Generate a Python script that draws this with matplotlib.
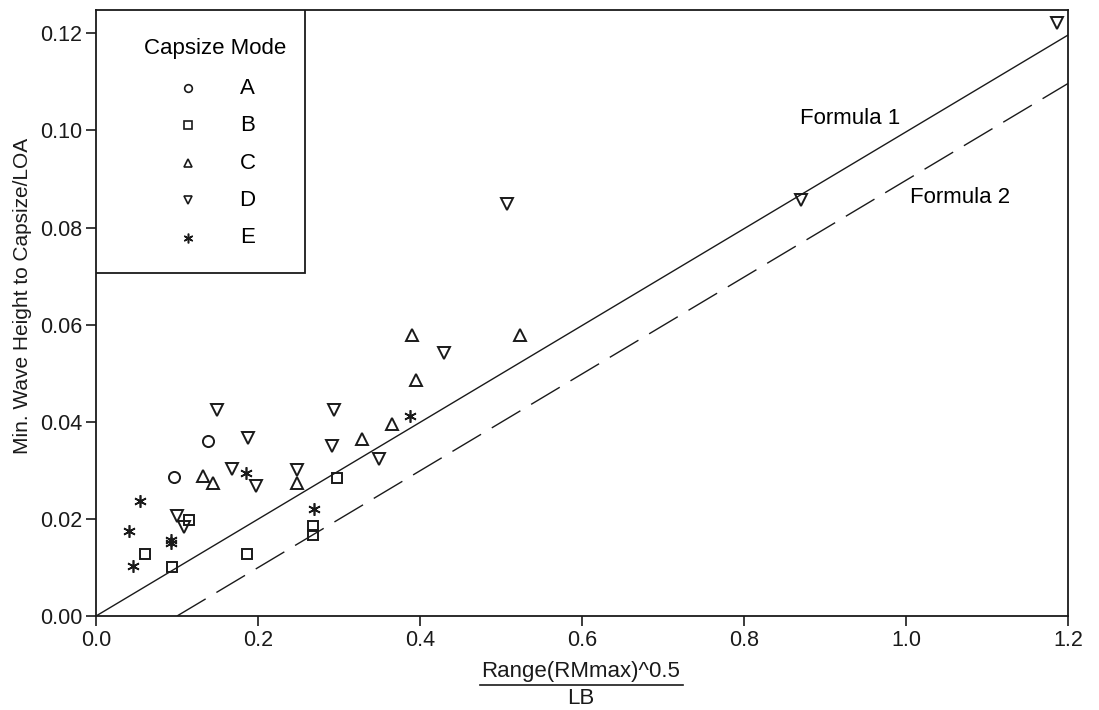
import numpy as np
import matplotlib
matplotlib.use('Agg')
import matplotlib.pyplot as plt
from matplotlib.patches import Rectangle
from matplotlib.lines import Line2D

plt.rcParams['font.family'] = ['Liberation Sans', 'DejaVu Sans']

# data: (x, y) per capsize mode
a_x = [0.096, 0.138]
a_y = [0.0286, 0.0360]

b_x = [0.0605, 0.0938, 0.115, 0.186, 0.268, 0.268, 0.297]
b_y = [0.0127, 0.0101, 0.0198, 0.0127, 0.0186, 0.0167, 0.0284]

c_x = [0.132, 0.145, 0.248, 0.328, 0.366, 0.390, 0.395, 0.524]
c_y = [0.0288, 0.0274, 0.0274, 0.0364, 0.0395, 0.0578, 0.0487, 0.0578]

d_x = [0.100, 0.108, 0.149, 0.168, 0.188, 0.1975, 0.248, 0.291, 0.294,
       0.349, 0.429, 0.507, 0.870, 1.186]
d_y = [0.0206, 0.0184, 0.0424, 0.0302, 0.0366, 0.0267, 0.0300, 0.0350,
       0.0424, 0.0324, 0.0542, 0.0849, 0.0856, 0.1221]

e_x = [0.041, 0.046, 0.054, 0.093, 0.093, 0.185, 0.269, 0.387]
e_y = [0.0176, 0.0103, 0.0237, 0.0156, 0.0150, 0.0294, 0.0220, 0.0412]

modes = ['A', 'B', 'C', 'D', 'E']
markers = ['o', 's', '^', 'v', (6, 2, 0)]
msizes = [8, 7.5, 8.5, 8.5, 9]

# formula lines
f1_x = [0.0, 1.2]
f1_slope = 0.0997
f2_x = [0.1, 1.2]
f2_offset = 0.1

ink = '#1a1a1a'
fs = 16

fig = plt.figure(figsize=(10.99, 7.10), dpi=100)
ax = fig.add_axes([0.0874, 0.1324, 0.8844, 0.8535])

series = [(a_x, a_y), (b_x, b_y), (c_x, c_y), (d_x, d_y), (e_x, e_y)]
for (xs, ys), m, ms in zip(series, markers, msizes):
  if m == (6, 2, 0):
    ax.plot(xs, ys, linestyle='none', marker=m, markersize=ms,
            color=ink, markeredgewidth=1.2, zorder=3)
  else:
    ax.plot(xs, ys, linestyle='none', marker=m, markersize=ms,
            markerfacecolor='none', markeredgecolor=ink,
            markeredgewidth=1.4, zorder=3)

x1 = np.array(f1_x)
ax.plot(x1, f1_slope * x1, color=ink, lw=1.0)
x2 = np.array(f2_x)
ax.plot(x2, f1_slope * (x2 - f2_offset), color=ink, lw=1.0,
        dashes=(24, 9))

ax.text(0.869, 0.1025, 'Formula 1', fontsize=fs, va='center', ha='left')
ax.text(1.005, 0.0862, 'Formula 2', fontsize=fs, va='center', ha='left')

ax.set_xlim(0, 1.2)
ax.set_ylim(0, 0.1248)
ax.set_xticks([0.0, 0.2, 0.4, 0.6, 0.8, 1.0, 1.2])
ax.set_yticks([0.0, 0.02, 0.04, 0.06, 0.08, 0.10, 0.12])
ax.xaxis.set_major_formatter(plt.FormatStrFormatter('%.1f'))
ax.yaxis.set_major_formatter(plt.FormatStrFormatter('%.2f'))
ax.tick_params(direction='out', length=7, width=1.2, labelsize=15.5,
               color=ink, labelcolor=ink, pad=3)
for s in ax.spines.values():
  s.set_linewidth(1.3)
  s.set_color(ink)

ax.set_ylabel('Min. Wave Height to Capsize/LOA', fontsize=15, color=ink)
ax.yaxis.set_label_coords(-0.066, 0.528)

# fraction-style x label
fig.text(0.5286, 1 - 671 / 710, 'Range(RMmax)^0.5', fontsize=fs,
         ha='center', va='center', color=ink)
fig.text(0.5286, 1 - 698 / 710, 'LB', fontsize=fs, ha='center',
         va='center', color=ink)
fig.add_artist(Line2D([480 / 1099, 683 / 1099], [1 - 685 / 710] * 2,
                      color=ink, lw=1.2))

# legend box in the upper left
ax.add_patch(Rectangle((0, 0.566), 0.215, 0.434, transform=ax.transAxes,
                       facecolor='white', edgecolor=ink, lw=1.3, zorder=4))
ax.text(0.1224, 0.937, 'Capsize Mode', transform=ax.transAxes,
        fontsize=fs, ha='center', va='center', zorder=5)
row_y = [0.871, 0.810, 0.7475, 0.686, 0.624]
for m, lab, yy in zip(markers, modes, row_y):
  if m == (6, 2, 0):
    ax.plot([0.0947], [yy], transform=ax.transAxes, marker=m,
            markersize=7, color=ink, markeredgewidth=1.1, zorder=5,
            clip_on=False)
  else:
    ax.plot([0.0947], [yy], transform=ax.transAxes, marker=m,
            markersize=5.5, markerfacecolor='none', markeredgecolor=ink,
            markeredgewidth=1.2, zorder=5, clip_on=False)
  ax.text(0.156, yy, lab, transform=ax.transAxes, fontsize=fs,
          ha='center', va='center', zorder=5)

fig.savefig('out.png', dpi=100)
